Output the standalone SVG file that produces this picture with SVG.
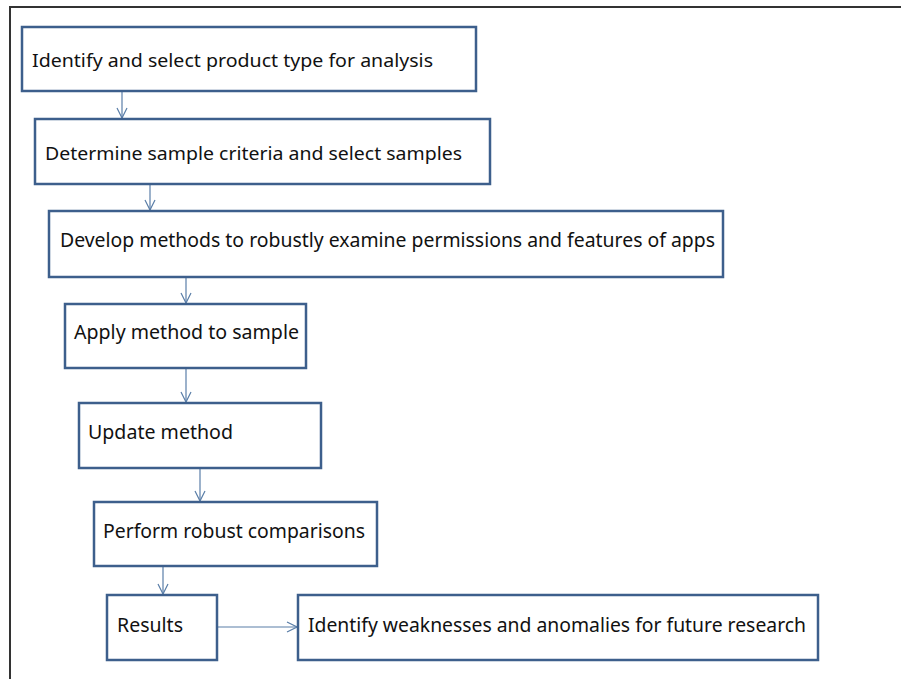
<svg xmlns="http://www.w3.org/2000/svg" width="901" height="679" viewBox="0 0 901 679">
<defs>
<style>
.box{fill:#fff;stroke:#3d5f8c;stroke-width:2.5}
.t{font-family:"Noto Sans","Open Sans","Liberation Sans",sans-serif;font-size:19px;fill:#111}
.s{font-size:17.5px}
.c{stroke:#5a7ea8;stroke-width:1.2;fill:none}
</style>
<marker id="ah" viewBox="0 0 12 12" refX="11" refY="6" markerWidth="12" markerHeight="12" markerUnits="userSpaceOnUse" orient="auto">
<path d="M1,1 L11,6 L1,11" fill="none" stroke="#5a7ea8" stroke-width="1.2"/>
</marker>
</defs>
<rect x="0" y="0" width="901" height="679" fill="#fff"/>
<path d="M10,690 L10,7 L905,7" fill="none" stroke="#333" stroke-width="2"/>
<g id="connectors">
<line class="c" x1="122" y1="92" x2="122" y2="118" marker-end="url(#ah)"/>
<line class="c" x1="150" y1="185" x2="150" y2="210" marker-end="url(#ah)"/>
<line class="c" x1="186" y1="278" x2="186" y2="303" marker-end="url(#ah)"/>
<line class="c" x1="186" y1="369" x2="186" y2="402" marker-end="url(#ah)"/>
<line class="c" x1="200" y1="469" x2="200" y2="501" marker-end="url(#ah)"/>
<line class="c" x1="163" y1="567" x2="163" y2="594" marker-end="url(#ah)"/>
<line class="c" x1="218" y1="627" x2="297" y2="627" marker-end="url(#ah)"/>
</g>
<g id="n1"><rect class="box" x="22" y="27" width="454" height="64"/><text class="t s" x="32" y="67" textLength="401" lengthAdjust="spacingAndGlyphs">Identify and select product type for analysis</text></g>
<g id="n2"><rect class="box" x="35" y="119" width="455" height="65"/><text class="t s" x="45" y="160" textLength="417" lengthAdjust="spacingAndGlyphs">Determine sample criteria and select samples</text></g>
<g id="n3"><rect class="box" x="49" y="211" width="674" height="66"/><text class="t" x="60" y="247" textLength="655" lengthAdjust="spacingAndGlyphs">Develop methods to robustly examine permissions and features of apps</text></g>
<g id="n4"><rect class="box" x="65" y="304" width="241" height="64"/><text class="t" x="74" y="339" textLength="225" lengthAdjust="spacingAndGlyphs">Apply method to sample</text></g>
<g id="n5"><rect class="box" x="79" y="403" width="242" height="65"/><text class="t" x="88" y="439" textLength="145" lengthAdjust="spacingAndGlyphs">Update method</text></g>
<g id="n6"><rect class="box" x="94" y="502" width="283" height="64"/><text class="t" x="103" y="538" textLength="262" lengthAdjust="spacingAndGlyphs">Perform  robust comparisons</text></g>
<g id="n7"><rect class="box" x="107" y="595" width="110" height="65"/><text class="t" x="117" y="632" textLength="66" lengthAdjust="spacingAndGlyphs">Results</text></g>
<g id="n8"><rect class="box" x="298" y="595" width="520" height="65"/><text class="t" x="308" y="632" textLength="498" lengthAdjust="spacingAndGlyphs">Identify weaknesses and anomalies for future research</text></g>
</svg>
